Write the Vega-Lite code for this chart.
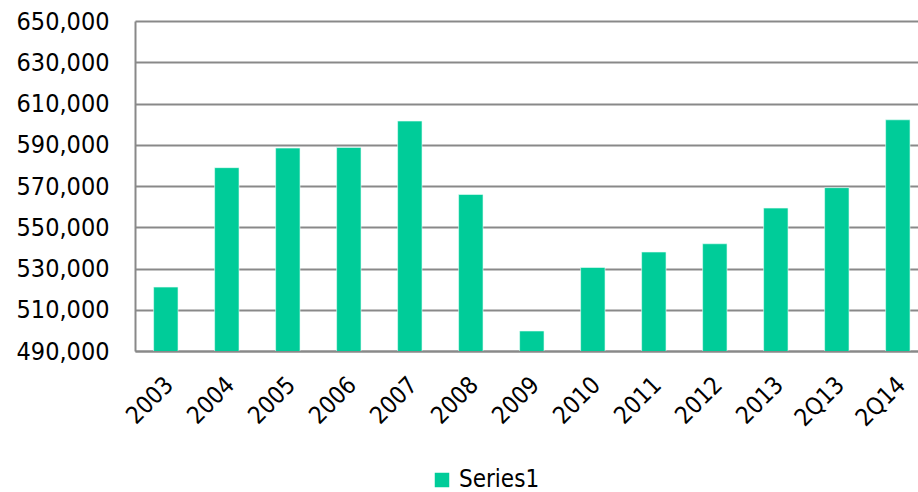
{
  "$schema": "https://vega.github.io/schema/vega-lite/v6.json",
  "width": 783,
  "height": 330,
  "autosize": {"type": "none"},
  "padding": {"left": 135, "top": 21, "right": 0, "bottom": 141},
  "background": "white",
  "config": {
    "view": {"stroke": null},
    "font": "DejaVu Sans Condensed"
  },
  "data": {
    "values": [
      {"period": "2003", "value": 521000, "series": "Series1"},
      {"period": "2004", "value": 578900, "series": "Series1"},
      {"period": "2005", "value": 588400, "series": "Series1"},
      {"period": "2006", "value": 588700, "series": "Series1"},
      {"period": "2007", "value": 601500, "series": "Series1"},
      {"period": "2008", "value": 565900, "series": "Series1"},
      {"period": "2009", "value": 499700, "series": "Series1"},
      {"period": "2010", "value": 530500, "series": "Series1"},
      {"period": "2011", "value": 538000, "series": "Series1"},
      {"period": "2012", "value": 542000, "series": "Series1"},
      {"period": "2013", "value": 559300, "series": "Series1"},
      {"period": "2Q13", "value": 569200, "series": "Series1"},
      {"period": "2Q14", "value": 602100, "series": "Series1"}
    ]
  },
  "mark": {"type": "bar", "clip": true, "stroke": "#e8fff8", "strokeWidth": 0.6},
  "encoding": {
    "x": {
      "field": "period",
      "type": "nominal",
      "sort": null,
      "scale": {"paddingInner": 0.6, "paddingOuter": 0.218, "align": 0.7},
      "axis": {
        "title": null,
        "labelAngle": -45,
        "labelAlign": "right",
        "labelBaseline": "middle",
        "labelFontSize": 24,
        "labelColor": "#000000",
        "labelPadding": 30,
        "labelOffset": 4,
        "ticks": false,
        "domainColor": "#898989",
        "domainWidth": 2
      }
    },
    "y": {
      "field": "value",
      "type": "quantitative",
      "scale": {"domain": [490000, 650000], "zero": false, "nice": false},
      "axis": {
        "title": null,
        "values": [490000, 510000, 530000, 550000, 570000, 590000, 610000, 630000, 650000],
        "format": ",d",
        "labelFontSize": 25,
        "labelColor": "#000000",
        "labelPadding": 26,
        "ticks": false,
        "gridColor": "#898989",
        "gridWidth": 2,
        "gridOpacity": 1,
        "domainColor": "#898989",
        "domainWidth": 2
      }
    },
    "color": {
      "field": "series",
      "type": "nominal",
      "scale": {"range": ["#00CC99"]},
      "legend": {
        "title": null,
        "orient": "none",
        "legendX": 295,
        "legendY": 447,
        "symbolType": "square",
        "symbolSize": 210,
        "symbolStrokeWidth": 0,
        "labelFontSize": 24,
        "labelColor": "#000000",
        "labelOffset": 5
      }
    }
  }
}
